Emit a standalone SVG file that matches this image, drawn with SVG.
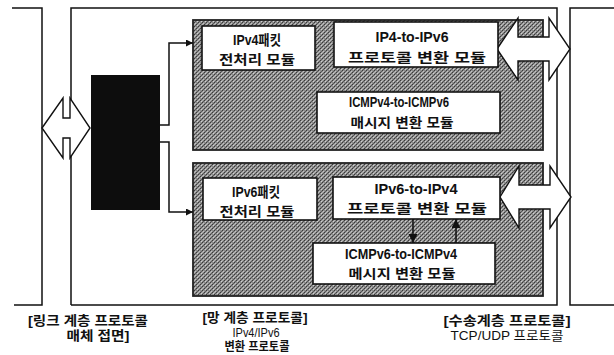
<svg xmlns="http://www.w3.org/2000/svg" width="614" height="355" viewBox="0 0 614 355">
<style>
.frame{fill:none;stroke:#111;stroke-width:1.5}
.panel{fill:url(#dither);stroke:#222;stroke-width:1.8}
.mod{fill:#fff;stroke:#111;stroke-width:1.6}
.dbl{fill:#fff;stroke:#111;stroke-width:1.4;stroke-linejoin:miter}
.conn{fill:none;stroke:#111;stroke-width:1.5}
.t{font-family:"Liberation Sans","Noto Sans CJK KR",sans-serif;font-weight:bold;font-size:14px;fill:#111;text-anchor:middle}
.k{font-family:"Liberation Sans","Noto Sans CJK KR",sans-serif;font-weight:bold;font-size:13px;fill:#111;text-anchor:middle}
.lbl{font-family:"Liberation Sans","Noto Sans CJK KR",sans-serif;font-weight:bold;font-size:13px;fill:#111;text-anchor:middle}
.lat{font-family:"Liberation Sans","Noto Sans CJK KR",sans-serif;font-size:13px;fill:#111;text-anchor:middle}
</style>
<defs>
<pattern id="dither" width="4" height="4" patternUnits="userSpaceOnUse">
<rect width="4" height="4" fill="#8e8e8e"/>
<rect x="0" y="0" width="1" height="1" fill="#3a3a3a"/>
<rect x="2" y="2" width="1" height="1" fill="#3a3a3a"/>
<rect x="1" y="3" width="1" height="1" fill="#5a5a5a"/>
<rect x="3" y="1" width="1" height="1" fill="#5a5a5a"/>
<rect x="1" y="1" width="1" height="1" fill="#d2d2d2"/>
<rect x="3" y="3" width="1" height="1" fill="#c4c4c4"/>
<rect x="2" y="0" width="1" height="1" fill="#b8b8b8"/>
</pattern>
<marker id="ah" viewBox="0 0 10 10" refX="10" refY="5" markerWidth="7" markerHeight="7" markerUnits="userSpaceOnUse" orient="auto">
<path d="M0,0 L10,5 L0,10 z" fill="#111"/>
</marker>
<marker id="ah2" viewBox="0 0 10 10" refX="10" refY="5" markerWidth="9" markerHeight="9" markerUnits="userSpaceOnUse" orient="auto">
<path d="M0,0 L10,5 L0,10 z" fill="#111"/>
</marker>
</defs>

<g id="frames">
<path class="frame" d="M12,8 H42 V305 H14"/>
<path class="frame" d="M71,305 V8 H557 V305 H71"/>
<path class="frame" d="M614,8 H570 V305 H614"/>
</g>

<g id="upper-panel">
<rect class="panel" x="193" y="20" width="350" height="130"/>
</g>
<g id="lower-panel">
<rect class="panel" x="193" y="163" width="350" height="133"/>
</g>

<g id="classifier">
<rect x="91" y="75" width="69" height="135" fill="#0d0d0d"/>
</g>

<g id="connectors">
<path class="conn" d="M160,125 H169 V43 H193" marker-end="url(#ah)"/>
<path class="conn" d="M160,142 H169 V212 H193" marker-end="url(#ah)"/>
<path class="conn" d="M413,219 V243" marker-end="url(#ah2)"/>
<path class="conn" d="M456,243 V219" marker-end="url(#ah2)"/>
</g>

<g id="link-arrow">
<polygon class="dbl" points="42,128 63,98 63,118 70,118 70,98 90,128 70,158 70,138 63,138 63,158"/>
</g>
<g id="transport-arrow-upper">
<polygon class="dbl" points="497,49 518,18 518,37 549,37 549,18 570,49 549,80 549,61 518,61 518,80"/>
</g>
<g id="transport-arrow-lower">
<polygon class="dbl" points="500,197 519,166 519,185 550,185 550,166 571,197 550,228 550,209 519,209 519,228"/>
</g>

<g id="ipv4-pre">
<rect class="mod" x="202" y="26" width="113" height="44"/>
<text class="t" x="257" y="45" textLength="48" lengthAdjust="spacingAndGlyphs">IPv4패킷</text>
<text class="k" x="257" y="64" textLength="76" lengthAdjust="spacingAndGlyphs">전처리 모듈</text>
</g>
<g id="ip4-to-ipv6">
<rect class="mod" x="334" y="22" width="164" height="45"/>
<text class="t" x="412" y="42" textLength="73" lengthAdjust="spacingAndGlyphs">IP4-to-IPv6</text>
<text class="k" x="417" y="62" textLength="138" lengthAdjust="spacingAndGlyphs">프로토콜 변환 모듈</text>
</g>
<g id="icmpv4-to-icmpv6">
<rect class="mod" x="317" y="92" width="183" height="41"/>
<text class="t" x="399" y="107" textLength="100" lengthAdjust="spacingAndGlyphs">ICMPv4-to-ICMPv6</text>
<text class="k" x="402" y="127" textLength="103" lengthAdjust="spacingAndGlyphs">매시지 변환 모듈</text>
</g>

<g id="ipv6-pre">
<rect class="mod" x="203" y="178" width="114" height="42"/>
<text class="t" x="256" y="197" textLength="48" lengthAdjust="spacingAndGlyphs">IPv6패킷</text>
<text class="k" x="257" y="216" textLength="75" lengthAdjust="spacingAndGlyphs">전처리 모듈</text>
</g>
<g id="ipv6-to-ipv4">
<rect class="mod" x="333" y="177" width="167" height="42"/>
<text class="t" x="416" y="194" textLength="83" lengthAdjust="spacingAndGlyphs">IPv6-to-IPv4</text>
<text class="k" x="417" y="213" textLength="140" lengthAdjust="spacingAndGlyphs">프로토콜 변환 모듈</text>
</g>
<g id="icmpv6-to-icmpv4">
<rect class="mod" x="313" y="243" width="182" height="41"/>
<text class="t" x="401" y="259" textLength="112" lengthAdjust="spacingAndGlyphs">ICMPv6-to-ICMPv4</text>
<text class="k" x="402" y="278" textLength="107" lengthAdjust="spacingAndGlyphs">메시지 변환 모듈</text>
</g>

<g id="labels">
<text class="lbl" x="88" y="325" textLength="120" lengthAdjust="spacingAndGlyphs">[링크 계층 프로토콜</text>
<text class="lbl" x="98" y="340" textLength="63" lengthAdjust="spacingAndGlyphs">매체 접면]</text>
<text class="lbl" x="255" y="322" textLength="105" lengthAdjust="spacingAndGlyphs">[망 계층 프로토콜]</text>
<text class="lat" x="256" y="337" textLength="47" lengthAdjust="spacingAndGlyphs">IPv4/IPv6</text>
<text class="lbl" x="257" y="351" style="font-size:12px" textLength="65" lengthAdjust="spacingAndGlyphs">변환 프로토콜</text>
<text class="lbl" x="507" y="325" textLength="127" lengthAdjust="spacingAndGlyphs">[수송계층 프로토콜]</text>
<text class="lat" x="507" y="340" textLength="113" lengthAdjust="spacingAndGlyphs">TCP/UDP 프로토콜</text>
</g>
</svg>
